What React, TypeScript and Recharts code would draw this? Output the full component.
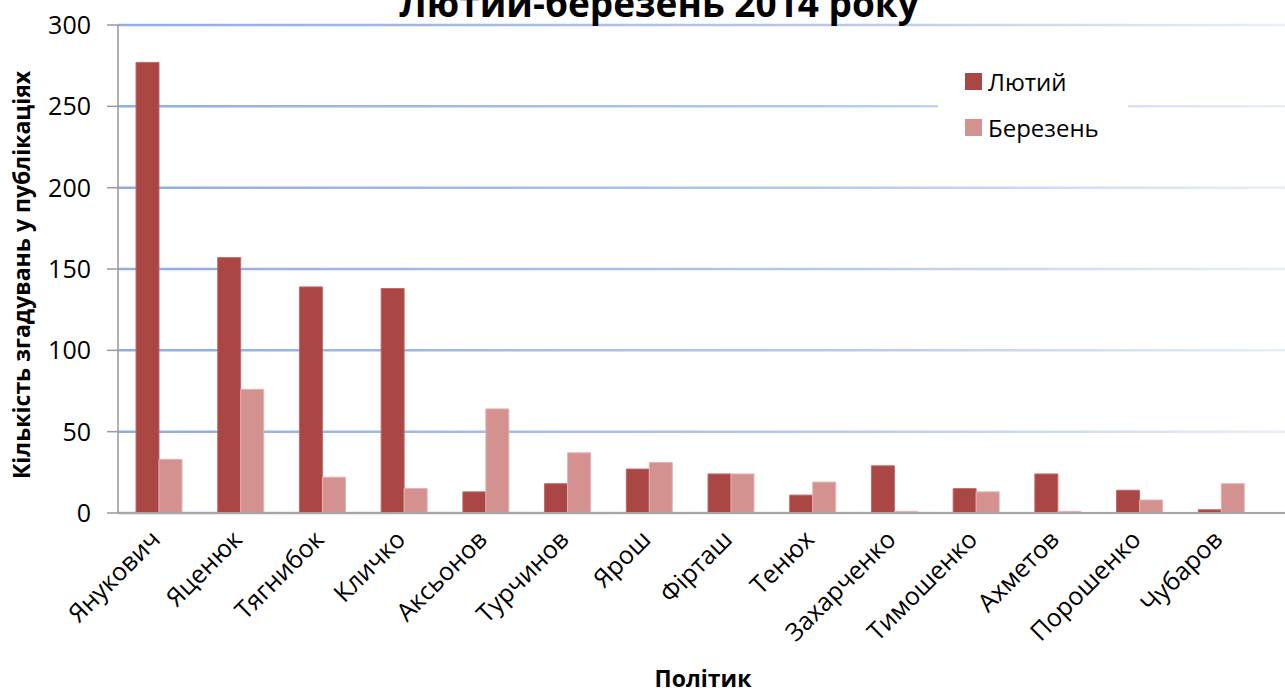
import React from "react";
import { Bar, BarChart, CartesianGrid, XAxis, YAxis } from "recharts";

const politicians = [
  "Янукович",
  "Яценюк",
  "Тягнибок",
  "Кличко",
  "Аксьонов",
  "Турчинов",
  "Ярош",
  "Фірташ",
  "Тенюх",
  "Захарченко",
  "Тимошенко",
  "Ахметов",
  "Порошенко",
  "Чубаров",
];
const february = [277, 157, 139, 138, 13, 18, 27, 24, 11, 29, 15, 24, 14, 2];
const march = [33, 76, 22, 15, 64, 37, 31, 24, 19, 1, 13, 1, 8, 18];
const yTicks = [0, 50, 100, 150, 200, 250, 300];

const data = politicians.map((name, i) => ({
  name,
  feb: february[i],
  mar: march[i],
}));

const FONT = "'Open Sans', 'DejaVu Sans', sans-serif";
const FEB_COLOR = "#aa4644";
const MAR_COLOR = "#d39190";

const XTick = ({ x, y, payload }: any) => {
  const ax = x + 3;
  const ay = y + 20;
  return (
    <text
      x={ax}
      y={ay}
      transform={`rotate(-45 ${ax} ${ay})`}
      textAnchor="end"
      fontSize={25}
      fontFamily={FONT}
      fill="#000"
    >
      {payload.value}
    </text>
  );
};

const legendItems = [
  { label: "Лютий", color: FEB_COLOR },
  { label: "Березень", color: MAR_COLOR },
];

export default function App() {
  return (
    <div
      style={{
        position: "absolute",
        left: 0,
        top: 0,
        width: 1285,
        height: 693,
        overflow: "hidden",
        background: "#fff",
      }}
    >
      <BarChart
        width={1285}
        height={693}
        data={data}
        margin={{ top: 25, right: 0, left: 0, bottom: 150 }}
        barGap={0}
        barSize={23}
      >
        <defs>
          <linearGradient id="gridFade" x1="118" y1="0" x2="1285" y2="0" gradientUnits="userSpaceOnUse">
            <stop offset="0%" stopColor="#8eaee2" />
            <stop offset="60%" stopColor="#b4c8ec" />
            <stop offset="100%" stopColor="#e8eef8" />
          </linearGradient>
        </defs>
        <CartesianGrid vertical={false} stroke="url(#gridFade)" strokeWidth={2.5} />
        <XAxis
          dataKey="name"
          height={30}
          interval={0}
          tickLine={false}
          padding={{ left: 0, right: 23 }}
          stroke="#a6a6a6"
          strokeWidth={2}
          tick={<XTick />}
        />
        <YAxis
          width={118}
          domain={[0, 300]}
          ticks={yTicks}
          tickSize={11}
          tickMargin={16}
          stroke="#999"
          strokeWidth={1.5}
          tick={{ fontSize: 25, fontFamily: FONT, fill: "#000" }}
        />
        <Bar dataKey="feb" name="Лютий" fill={FEB_COLOR} stroke="#c06a68" strokeWidth={1} isAnimationActive={false} />
        <Bar dataKey="mar" name="Березень" fill={MAR_COLOR} stroke="#e4b3b2" strokeWidth={1} isAnimationActive={false} />
      </BarChart>
      <div
        style={{
          position: "absolute",
          left: 938,
          top: 58,
          width: 190,
          background: "#fff",
          fontFamily: FONT,
          fontSize: 24,
          color: "#000",
        }}
      >
        {legendItems.map((item) => (
          <div
            key={item.label}
            style={{ display: "flex", alignItems: "center", height: 46, paddingLeft: 27 }}
          >
            <span
              style={{
                display: "inline-block",
                width: 17,
                height: 17,
                background: item.color,
                marginRight: 6,
              }}
            />
            {item.label}
          </div>
        ))}
      </div>
      <div
        style={{
          position: "absolute",
          left: 0,
          width: 1318,
          top: -23,
          textAlign: "center",
          fontFamily: FONT,
          fontWeight: 700,
          fontSize: 37,
          color: "#000",
        }}
      >
        Лютий-березень 2014 року
      </div>
      <div
        style={{
          position: "absolute",
          left: 0,
          width: 1406,
          top: 662,
          textAlign: "center",
          fontFamily: FONT,
          fontWeight: 700,
          fontSize: 23,
          color: "#000",
        }}
      >
        Політик
      </div>
      <div
        style={{
          position: "absolute",
          left: 21,
          top: 275,
          transform: "translate(-50%, -50%) rotate(-90deg)",
          whiteSpace: "nowrap",
          fontFamily: FONT,
          fontWeight: 700,
          fontSize: 23,
          color: "#000",
        }}
      >
        Кількість згадувань у публікаціях
      </div>
    </div>
  );
}
